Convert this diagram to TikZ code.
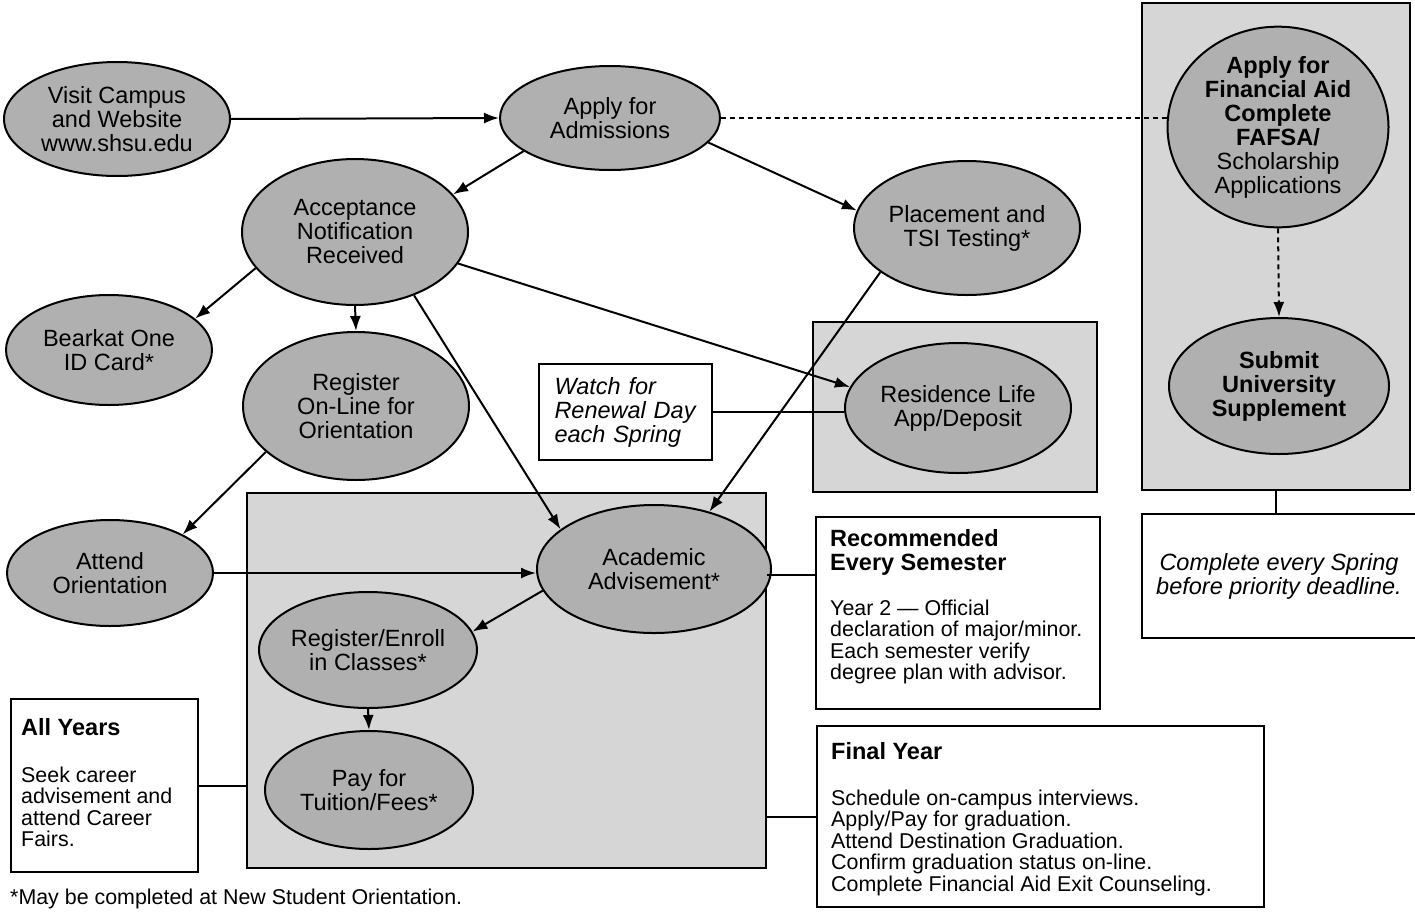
\documentclass[tikz,border=0pt]{standalone}
\usepackage{fontspec}
\setmainfont{Liberation Sans}
\usetikzlibrary{shapes.geometric,arrows.meta}
\definecolor{ovalgray}{gray}{0.69}
\definecolor{panelgray}{gray}{0.84}
\newcommand\bigtext{\fontsize{23.5}{24}\selectfont}
\newcommand\smalltext{\fontsize{21.4}{21.5}\selectfont}
\tikzset{
  oval/.style    = {shape=ellipse, draw, line width=2pt, fill=ovalgray,
                    align=center, inner sep=0pt, font=\bigtext},
  panel/.style   = {shape=rectangle, draw, line width=2.4pt, fill=panelgray,
                    inner sep=0pt},
  notebox/.style = {shape=rectangle, draw, line width=2.4pt, fill=white,
                    anchor=north west, inner xsep=14pt, font=\smalltext},
  flow/.style    = {draw, line width=2pt, -{Latex[length=15pt,width=11pt]}},
  tie/.style     = {draw, line width=2pt},
  dottie/.style  = {tie, dash pattern=on 5pt off 4pt}
}

\begin{document}
\begin{tikzpicture}
  [
    x = 1pt,
    y = -1pt
  ]
  \useasboundingbox (0,0) rectangle (1415,911);

  \node [panel, minimum width=284pt, minimum height=170pt] (resbox) at (955,407) {};
  \node [panel, minimum width=268pt, minimum height=487pt] (fabox) at (1276,246.5) {};
  \node [panel, minimum width=519pt, minimum height=375pt] (acadbox) at (506.5,680.5) {};

  \node [oval, minimum width=226pt, minimum height=114pt] (visit) at (117,119)
    {Visit Campus\\and Website\\www.shsu.edu};
  \node [oval, minimum width=220pt, minimum height=104pt] (apply) at (610,118)
    {Apply for\\Admissions};
  \node [oval, minimum width=226pt, minimum height=146pt] (accept) at (355,232)
    {Acceptance\\Notification\\Received};
  \node [oval, minimum width=206pt, minimum height=110pt] (bearkat) at (109,350)
    {Bearkat One\\ID Card*};
  \node [oval, minimum width=226pt, minimum height=148pt] (online) at (356,406)
    {Register\\On-Line for\\Orientation};
  \node [oval, minimum width=206pt, minimum height=106pt] (attend) at (110,573)
    {Attend\\Orientation};
  \node [oval, minimum width=226pt, minimum height=134pt] (placement) at (967,228)
    {Placement and\\TSI Testing*};
  \node [oval, minimum width=226pt, minimum height=130pt] (residence) at (958,408)
    {Residence Life\\App/Deposit};
  \node [oval, minimum width=221pt, minimum height=200pt] (aid) at (1278,127)
    {\textbf{Apply for}\\\textbf{Financial Aid}\\\textbf{Complete}\\\textbf{FAFSA/}\\Scholarship\\Applications};
  \node [oval, minimum width=220pt, minimum height=136pt, font=\bigtext\bfseries] (supplement) at (1279,386)
    {Submit\\University\\Supplement};
  \node [oval, minimum width=234pt, minimum height=128pt] (advise) at (654,569)
    {Academic\\Advisement*};
  \node [oval, minimum width=206pt, minimum height=116pt] (enroll) at (368,650)
    {Register/Enroll\\in Classes*};
  \node [oval, minimum width=208pt, minimum height=118pt] (pay) at (369,790)
    {Pay for\\Tuition/Fees*};

  \node [notebox, anchor=center, font=\bigtext\itshape, align=left, text width=142pt,
         inner xsep=15.5pt, minimum height=96pt] (renewal) at (625.5,412)
    {Watch for\\Renewal Day\\each Spring};
  \node [notebox, anchor=center, font=\bigtext\itshape, align=center,
         minimum width=268pt, minimum height=124pt] (spring) at (1279,576)
    {Complete every Spring\\before priority deadline.};
  \node [notebox, inner ysep=12.3pt] (semester) at (815,516)
    {\parbox[t][167.4pt][t]{256pt}{\raggedright
      {\bigtext\bfseries Recommended\\Every Semester\par}
      \vspace{23pt}
      Year 2 — Official\\declaration of major/minor.\\Each semester verify\\degree plan with advisor.\par}};
  \node [notebox, inner ysep=16.3pt] (finalyear) at (816,725)
    {\parbox[t][148.4pt][t]{419pt}{\raggedright
      {\bigtext\bfseries Final Year\par}
      \vspace{24pt}
      Schedule on-campus interviews.\\Apply/Pay for graduation.\\Attend Destination Graduation.\\Confirm graduation status on-line.\\Complete Financial Aid Exit Counseling.\par}};
  \node [notebox, inner xsep=10pt, inner ysep=19.3pt] (allyears) at (10,698)
    {\parbox[t][134.4pt][t]{167pt}{\raggedright
      {\bigtext\bfseries All Years\par}
      \vspace{25pt}
      Seek career\\advisement and\\attend Career\\Fairs.\par}};

  \node [anchor=west, inner sep=0pt, font=\smalltext] (footnote) at (10,899)
    {*May be completed at New Student Orientation.};

  \draw [flow] (visit.east) -- (apply.west);
  \draw [flow] (apply.201) -- (accept.21);
  \draw [flow] (apply.-14) -- (placement.171);
  \draw [dottie] (apply.east) -- (apply.east -| aid.west);
  \draw [flow, dash pattern=on 5pt off 4pt] (aid.south) -- (supplement.north);
  \draw [flow] (accept.200) -- (bearkat.20);
  \draw [flow] (accept.south) -- (online.north);
  \draw [flow] (accept.-17) -- (residence.169);
  \draw [flow] (accept.-47) -- (advise.157);
  \draw [flow] (placement.207) -- (advise.46);
  \draw [flow] (online.207) -- (attend.28);
  \draw [flow] (attend.east) -- (attend.east -| advise.west);
  \draw [flow] (advise.191) -- (enroll.10);
  \draw [flow] (enroll.south) -- (pay.north);
  \draw [tie] (renewal.east) -- (renewal.east -| residence.west);
  \draw [tie] (semester.165.4) -- (semester.165.4 -| acadbox.east);
  \draw [tie] (finalyear.west) -- (finalyear.west -| acadbox.east);
  \draw [tie] (allyears.east) -- (allyears.east -| acadbox.west);
  \draw [tie] (fabox.south) -- (fabox.south |- spring.north);
\end{tikzpicture}
\end{document}
